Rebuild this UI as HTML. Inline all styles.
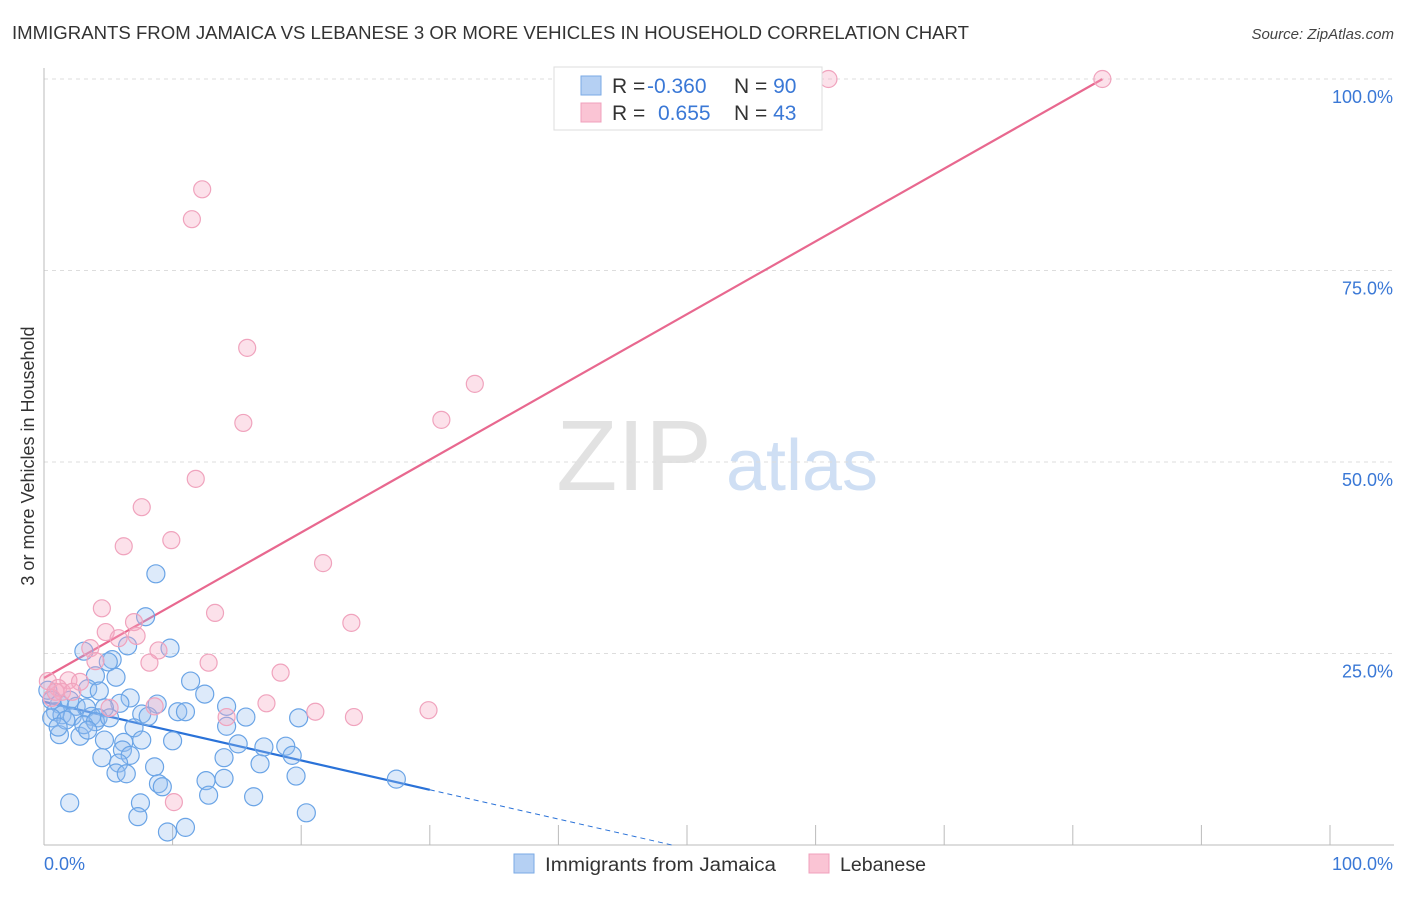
<!DOCTYPE html>
<html><head><meta charset="utf-8"><style>
body{margin:0;background:#fff;font-family:"Liberation Sans",sans-serif;}
svg text{font-family:"Liberation Sans",sans-serif;}
</style></head><body>
<svg id="chart" width="1406" height="892" xmlns="http://www.w3.org/2000/svg">
<text x="12" y="39" font-size="18" fill="#333" textLength="957" lengthAdjust="spacingAndGlyphs">IMMIGRANTS FROM JAMAICA VS LEBANESE 3 OR MORE VEHICLES IN HOUSEHOLD CORRELATION CHART</text>
<text x="1394" y="39" font-size="15" fill="#444" font-style="italic" text-anchor="end">Source: ZipAtlas.com</text>
<text transform="translate(34,456) rotate(-90)" font-size="18" fill="#333" text-anchor="middle">3 or more Vehicles in Household</text>
<g>
<text x="634" y="490" font-size="100" fill="#e2e2e2" font-family="Liberation Serif" text-anchor="middle">ZIP</text>
<text x="802" y="490" font-size="72" fill="#cfdff4" text-anchor="middle">atlas</text>
</g>
<g id="grid"></g><g id="axes"></g><g id="lines"></g><g id="pts"></g>
<g>
<rect x="554" y="67" width="268" height="63" fill="#fff" stroke="#ddd"/>
<rect x="581" y="76" width="20" height="19" fill="#b5d0f3" stroke="#7aaae6"/>
<rect x="581" y="103" width="20" height="19" fill="#fac4d4" stroke="#f0a0bc"/>
<text x="612" y="93" font-size="21" fill="#333">R = <tspan fill="#3a78d6" x="647">-0.360</tspan></text>
<text x="734" y="93" font-size="21" fill="#333">N = <tspan fill="#3a78d6">90</tspan></text>
<text x="612" y="120" font-size="21" fill="#333">R = <tspan fill="#3a78d6" x="658">0.655</tspan></text>
<text x="734" y="120" font-size="21" fill="#333">N = <tspan fill="#3a78d6">43</tspan></text>
</g>
<g>
<rect x="514" y="854" width="20" height="19" fill="#b5d0f3" stroke="#7aaae6"/>
<text x="545" y="871" font-size="19" fill="#333" textLength="231" lengthAdjust="spacingAndGlyphs">Immigrants from Jamaica</text>
<rect x="809" y="854" width="20" height="19" fill="#fac4d4" stroke="#f0a0bc"/>
<text x="840" y="871" font-size="19" fill="#333" textLength="86" lengthAdjust="spacingAndGlyphs">Lebanese</text>
</g>
</svg>
<script>
const yTicks=[25,50,75,100];
const yTickLabels=["25.0%","50.0%","75.0%","100.0%"];
const xTickLabels=["0.0%","100.0%"];
const jamX=[8.7,7.9,9.8,6.5,3.1,5.3,5.0,11.4,4.0,5.6,3.4,4.3,12.5,6.7,8.8,14.2,5.9,1.2,0.6,2.0,2.5,3.3,4.7,7.6,8.1,10.4,11.0,15.7,19.8,0.9,1.4,2.2,3.7,4.2,7.0,14.2,1.2,2.8,4.7,6.2,7.6,10.0,15.1,17.1,18.8,19.3,6.1,6.7,4.5,5.8,14.0,16.8,8.6,5.6,6.4,8.9,9.2,12.6,14.0,19.6,27.4,2.0,7.5,12.8,16.3,7.3,20.4,9.6,11.0,0.3,0.6,1.7,1.1,3.1,4.0,5.1,3.4];
const jamY=[35.4,29.8,25.7,26.0,25.3,24.2,23.9,21.4,22.1,21.9,20.4,20.1,19.7,19.2,18.4,18.1,18.5,18.4,18.9,18.9,18.1,17.9,17.9,17.1,16.8,17.4,17.4,16.7,16.6,17.4,17.0,16.8,16.8,16.6,15.3,15.5,14.4,14.2,13.7,13.4,13.7,13.6,13.2,12.8,12.9,11.7,12.4,11.7,11.4,10.7,11.4,10.6,10.2,9.4,9.3,8.0,7.6,8.4,8.7,9.0,8.6,5.5,5.5,6.5,6.3,3.7,4.2,1.7,2.3,20.2,16.6,16.3,15.4,15.7,16.1,16.6,15.0];
const lebX=[82.3,61.0,12.3,11.5,15.8,33.5,30.9,15.5,11.8,7.6,9.9,6.2,21.7,4.5,13.3,23.9,7.0,4.8,7.2,5.8,3.6,8.9,4.0,8.2,12.8,18.4,0.3,1.9,2.8,1.1,1.4,0.6,8.6,17.3,5.1,21.1,29.9,24.1,14.2,10.1,2.2,0.9];
const lebY=[100,100,85.6,81.7,64.9,60.2,55.5,55.1,47.8,44.1,39.8,39.0,36.8,30.9,30.3,29.0,29.1,27.8,27.3,27.0,25.7,25.4,24.0,23.8,23.8,22.5,21.4,21.5,21.3,20.5,20.0,19.2,18.1,18.5,17.9,17.4,17.6,16.7,16.7,5.6,20.0,20.0];
const jamTrend=[18.7,-0.383];
const lebTrend=[21.8,0.95];
const X=v=>44+v*12.86, Y=v=>845-v*7.66;
const NS="http://www.w3.org/2000/svg";
function mk(t,a,p){const e=document.createElementNS(NS,t);for(const k in a)e.setAttribute(k,a[k]);document.getElementById(p).appendChild(e);return e;}
yTicks.forEach((t,i)=>{
 const g=mk('line',{x1:44,x2:1394,y1:Y(t),y2:Y(t),stroke:'#ddd','stroke-dasharray':'4,4'},'grid');
 
 
 const l=mk('text',{x:1393,y:Y(t)+24,'font-size':18,fill:'#3a78d6','text-anchor':'end'},'axes');
 l.textContent=yTickLabels[i];
 
 
});
mk('line',{x1:44,x2:44,y1:68,y2:845,stroke:'#bbb'},'axes');
mk('line',{x1:44,x2:1394,y1:845,y2:845,stroke:'#bbb'},'axes');
for(let i=1;i<=10;i++){const t=mk('line',{x1:X(i*10),x2:X(i*10),y1:825,y2:845,stroke:'#bbb'},'axes');
 
 }
const xl0=mk('text',{x:44,y:870,'font-size':18,fill:'#3a78d6'},'axes');xl0.textContent=xTickLabels[0];


const xl1=mk('text',{x:1393,y:870,'font-size':18,fill:'#3a78d6','text-anchor':'end'},'axes');xl1.textContent=xTickLabels[1];


const lt=mk('line',{x1:X(0),y1:Y(lebTrend[0]),x2:X(82.3),y2:Y(lebTrend[0]+lebTrend[1]*82.3),stroke:'#e8688f','stroke-width':2.2},'lines');


const jt=mk('line',{x1:X(0),y1:Y(jamTrend[0]),x2:X(30),y2:Y(jamTrend[0]+jamTrend[1]*30),stroke:'#2a72d8','stroke-width':2.2},'lines');


const x0=-jamTrend[0]/jamTrend[1];
const jd=mk('line',{x1:X(30),y1:Y(jamTrend[0]+jamTrend[1]*30),x2:X(x0),y2:Y(0),stroke:'#2a72d8','stroke-width':1,'stroke-dasharray':'5,4'},'lines');


jamX.forEach((x,i)=>{const c=mk('circle',{cx:X(x),cy:Y(jamY[i]),r:9,fill:'rgba(150,190,240,0.32)',stroke:'#6aa4e6','stroke-width':1.2},'pts');
 
 });
lebX.forEach((x,i)=>{const c=mk('circle',{cx:X(x),cy:Y(lebY[i]),r:8.5,fill:'rgba(245,170,195,0.35)',stroke:'#f0a3bd','stroke-width':1.2},'pts');
 
 });
</script>
</body></html>
